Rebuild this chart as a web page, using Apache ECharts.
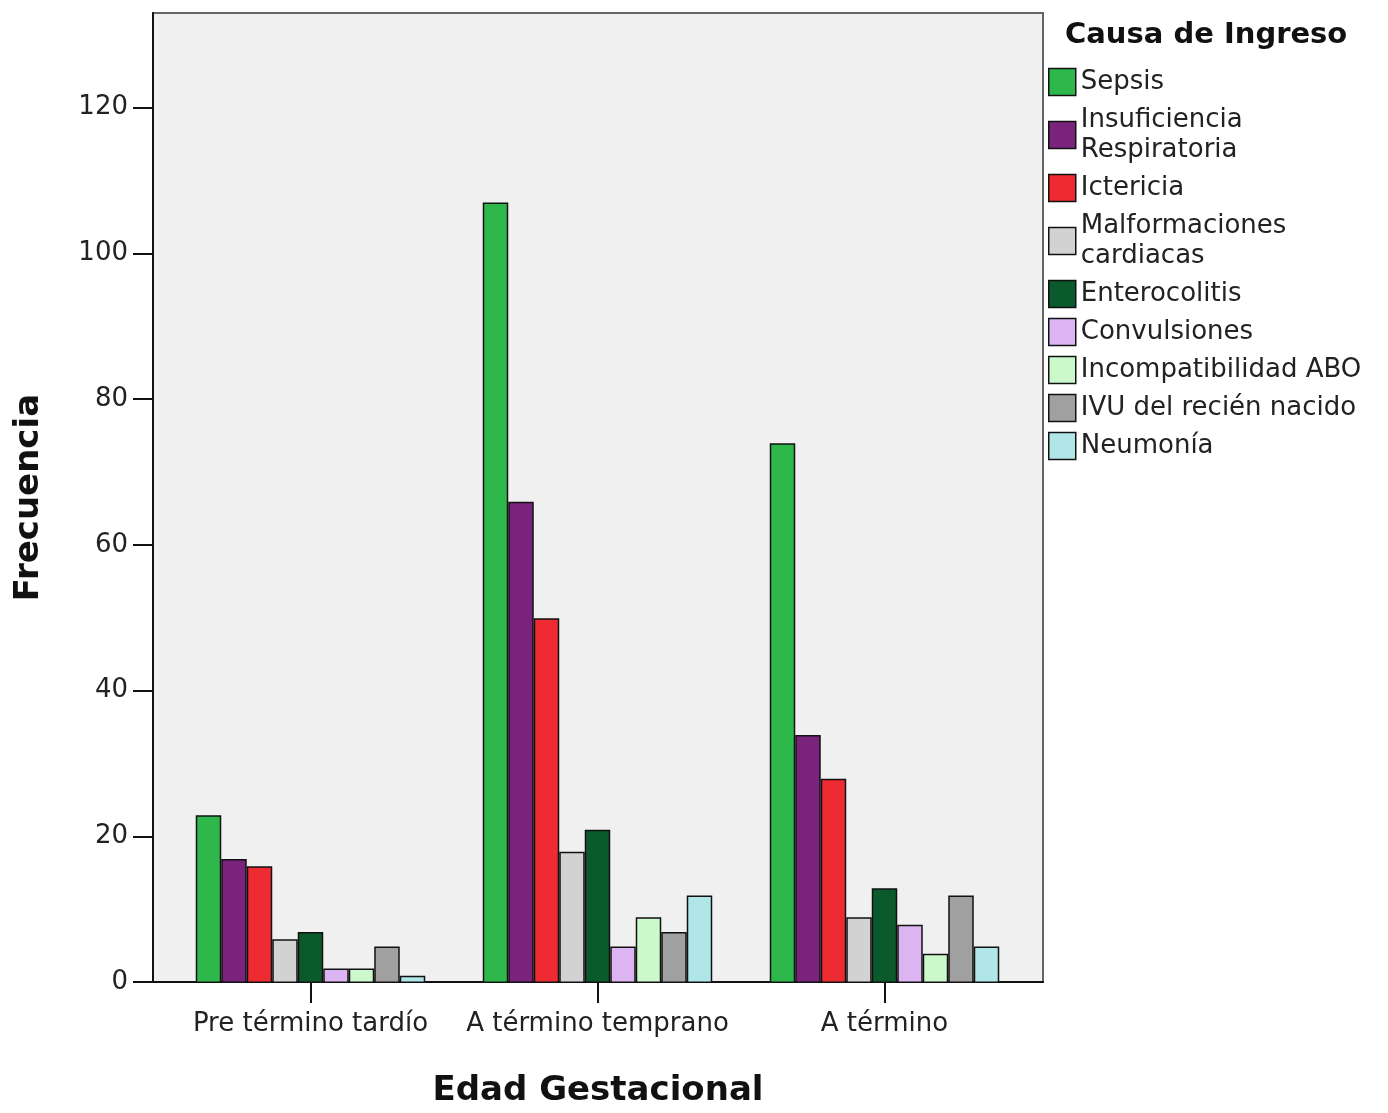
<!DOCTYPE html>
<html>
<head>
<meta charset="utf-8">
<script src="https://cdn.jsdelivr.net/npm/echarts@6/dist/echarts.min.js"></script>
<style>
html,body{margin:0;padding:0;background:#fff;}
#chart{width:1388px;height:1113px;}
</style>
</head>
<body>
<div id="chart"></div>
<script>
const categories = ['Pre término tardío', 'A término temprano', 'A término'];
const causes = ['Sepsis', 'Insuficiencia Respiratoria', 'Ictericia', 'Malformaciones cardiacas', 'Enterocolitis', 'Convulsiones', 'Incompatibilidad ABO', 'IVU del recién nacido', 'Neumonía'];
const legendLabels = ['Sepsis', 'Insuficiencia\nRespiratoria', 'Ictericia', 'Malformaciones\ncardiacas', 'Enterocolitis', 'Convulsiones', 'Incompatibilidad ABO', 'IVU del recién nacido', 'Neumonía'];
const sepsis = [23, 107, 74];
const insuficiencia = [17, 66, 34];
const ictericia = [16, 50, 28];
const malformaciones = [6, 18, 9];
const enterocolitis = [7, 21, 13];
const convulsiones = [2, 5, 8];
const incompatibilidad = [2, 9, 4];
const ivu = [5, 7, 12];
const neumonia = [1, 12, 5];
const yTicks = [0, 20, 40, 60, 80, 100, 120];
const colors = ['#2eb84b', '#7a237d', '#ee2a32', '#d2d2d2', '#0b5a2b', '#dcb4f2', '#ccf9cc', '#a0a0a0', '#b0e6e8'];

const seriesValues = [sepsis, insuficiencia, ictericia, malformaciones, enterocolitis, convulsiones, incompatibilidad, ivu, neumonia];
const FONT = 'DejaVu Sans';

const chart = echarts.init(document.getElementById('chart'), null, {renderer: 'canvas'});
const labelMap = {};
causes.forEach((c, i) => labelMap[c] = legendLabels[i]);

chart.setOption({
  animation: false,
  backgroundColor: '#ffffff',
  title: {
    text: 'Causa de Ingreso',
    left: 1060,
    top: 16,
    textStyle: {fontFamily: FONT, fontSize: 29, fontWeight: 'bold', color: '#111'}
  },
  legend: {
    orient: 'vertical',
    left: 1043,
    top: 62,
    itemWidth: 27,
    itemHeight: 27,
    itemGap: 8,
    icon: 'rect',
    data: causes,
    formatter: name => labelMap[name],
    itemStyle: {borderColor: '#111', borderWidth: 1.5},
    textStyle: {fontFamily: FONT, fontSize: 26, lineHeight: 30, color: '#222'}
  },
  grid: [
    {left: 153, right: 345, top: 13, bottom: 130, show: true, backgroundColor: '#f0f0f0', borderColor: '#666', borderWidth: 2},
    {left: 167, right: 360, top: 13, bottom: 130}
  ],
  xAxis: [
    {
      gridIndex: 0, type: 'value', min: 0, max: 1,
      axisLine: {show: true, onZero: false, lineStyle: {color: '#111', width: 2}},
      axisTick: {show: false}, axisLabel: {show: false}, splitLine: {show: false},
      name: 'Edad Gestacional', nameLocation: 'middle', nameGap: 92,
      nameTextStyle: {fontFamily: FONT, fontSize: 34, fontWeight: 'bold', color: '#111'}
    },
    {
      gridIndex: 1, type: 'category', data: categories,
      axisLine: {show: false},
      axisTick: {show: true, interval: 0, alignWithLabel: true, length: 20, lineStyle: {color: '#111', width: 2}},
      axisLabel: {interval: 0, margin: 28, fontFamily: FONT, fontSize: 26, color: '#222'}
    }
  ],
  yAxis: [
    {
      gridIndex: 0, type: 'value', min: 0, max: 133, interval: 20,
      axisLine: {show: true, lineStyle: {color: '#111', width: 2}},
      axisTick: {show: true, length: 20, customValues: yTicks, lineStyle: {color: '#111', width: 2}},
      axisLabel: {margin: 25, customValues: yTicks, fontFamily: FONT, fontSize: 26, color: '#222'},
      splitLine: {show: false},
      name: 'Frecuencia', nameLocation: 'middle', nameGap: 107,
      nameTextStyle: {fontFamily: FONT, fontSize: 34, fontWeight: 'bold', color: '#111'}
    },
    {
      gridIndex: 1, type: 'value', min: 0, max: 133, show: false, splitLine: {show: false}
    }
  ],
  series: causes.map((name, i) => ({
    name: name,
    type: 'bar',
    xAxisIndex: 1,
    yAxisIndex: 1,
    barWidth: 25.5,
    barGap: '0%',
    data: seriesValues[i],
    itemStyle: {color: colors[i], borderColor: '#111', borderWidth: 1.5}
  }))
});
</script>
</body>
</html>
